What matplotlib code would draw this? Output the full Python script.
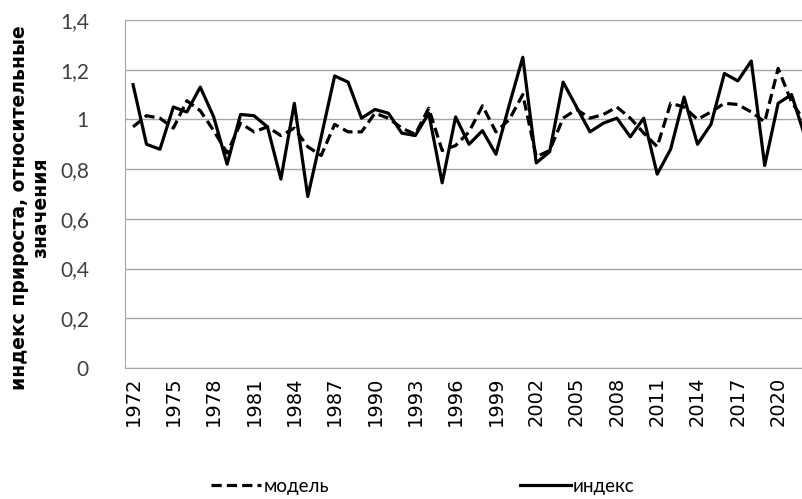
import matplotlib
matplotlib.use('Agg')
import matplotlib.pyplot as plt
from matplotlib.ticker import FuncFormatter

# data
years = list(range(1972, 2023))
index = [1.14, 0.90, 0.88, 1.05, 1.03, 1.13, 1.01, 0.82, 1.02, 1.015,
         0.97, 0.76, 1.065, 0.69, 0.93, 1.175, 1.15, 1.005, 1.04, 1.025,
         0.945, 0.935, 1.025, 0.745, 1.01, 0.90, 0.955, 0.86, 1.06, 1.25,
         0.825, 0.87, 1.15, 1.05, 0.95, 0.985, 1.005, 0.93, 1.005, 0.78,
         0.88, 1.09, 0.90, 0.98, 1.185, 1.155, 1.235, 0.815, 1.065, 1.10,
         0.93]
model = [0.97, 1.015, 1.005, 0.965, 1.075, 1.035, 0.955, 0.865, 0.985, 0.95,
         0.97, 0.935, 0.965, 0.89, 0.855, 0.98, 0.95, 0.95, 1.025, 1.005,
         0.965, 0.94, 1.045, 0.875, 0.895, 0.95, 1.055, 0.95, 1.0, 1.10,
         0.85, 0.875, 1.005, 1.04, 1.005, 1.02, 1.05, 1.005, 0.945, 0.89,
         1.065, 1.05, 1.0, 1.03, 1.065, 1.06, 1.03, 0.99, 1.205, 1.07,
         0.99]
xticks = list(range(1972, 2021, 3))
yticks = [0, 0.2, 0.4, 0.6, 0.8, 1.0, 1.2, 1.4]

fig = plt.figure(figsize=(8.03, 4.99), dpi=100)
ax = fig.add_axes([125/803, 1 - 368/499, 1 - 125/803, 348/499])

ax.plot(years, model, color='black', lw=2.3, ls=(0, (3.2, 1.6)), label='модель')
ax.plot(years, index, color='black', lw=2.3, label='индекс')

ax.set_xlim(1971.4, 2021.85)
ax.set_ylim(0, 1.4)
ax.set_yticks(yticks)
ax.set_xticks(xticks)
ax.yaxis.set_major_formatter(FuncFormatter(lambda v, p: ('%g' % round(v, 1)).replace('.', ',')))
ax.grid(axis='y', color='#a6a6a6', lw=1)
ax.set_axisbelow(True)
for s in ['top', 'right']:
  ax.spines[s].set_visible(False)
for s in ['left', 'bottom']:
  ax.spines[s].set_color('#a6a6a6')
ax.tick_params(axis='both', length=0)
ax.tick_params(axis='y', pad=26)
ax.tick_params(axis='x', pad=6)
for t in ax.get_yticklabels():
  t.set_fontfamily('Lato')
  t.set_fontsize(15)
  t.set_color('#404040')
for t in ax.get_xticklabels():
  t.set_rotation(90)
  t.set_fontfamily('DejaVu Sans')
  t.set_fontsize(14)
  t.set_color('black')

fig.text(30/803, 1 - 208/499, 'индекс прироста, относительные\nзначения',
         rotation=90, ha='center', va='center', multialignment='center',
         fontsize=13.5, fontweight='bold', family='DejaVu Sans', linespacing=1.1)

leg = fig.legend(loc='center', bbox_to_anchor=(0.526, 0.026), ncol=2, frameon=False,
                 handlelength=2.7, columnspacing=10.2, handletextpad=0.1,
                 prop={'family': 'Lato', 'size': 13.5})

fig.savefig('out.png', dpi=100)
